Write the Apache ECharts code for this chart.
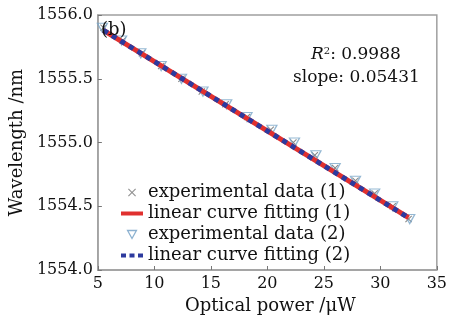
<!DOCTYPE html>
<html><head><meta charset="utf-8">
<script src="https://cdn.jsdelivr.net/npm/echarts@6/dist/echarts.min.js"></script>
<style>html,body{margin:0;padding:0;background:#fff}#c{width:450px;height:322px}</style>
</head><body><div id="c"></div>
<script>
// Data
const power1 = [5.5, 7.2, 8.9, 10.6, 12.4, 14.2, 16.3, 18.2, 20.3, 22.3, 24.2, 26.0, 27.8, 29.5, 31.1, 32.5];
const wave1  = [1555.9, 1555.8, 1555.7, 1555.6, 1555.5, 1555.4, 1555.3, 1555.2, 1555.1, 1555.0, 1554.9, 1554.8, 1554.7, 1554.6, 1554.5, 1554.4];
const power2 = [5.4, 7.1, 8.8, 10.6, 12.4, 14.3, 16.4, 18.2, 20.4, 22.4, 24.3, 26.0, 27.8, 29.5, 31.1, 32.6];
const wave2  = [1555.9, 1555.8, 1555.7, 1555.6, 1555.5, 1555.4, 1555.3, 1555.2, 1555.1, 1555.0, 1554.9, 1554.8, 1554.7, 1554.6, 1554.5, 1554.4];
const fitX = [5.5, 32.5];
const fit1 = [1555.88, 1554.41];
const fit2 = [1555.88, 1554.41];
const xTicks = [5, 10, 15, 20, 25, 30, 35];
const yTicks = [1554.0, 1554.5, 1555.0, 1555.5, 1556.0];
const seriesNames = ['experimental data (1)', 'linear curve fitting (1)', 'experimental data (2)', 'linear curve fitting (2)'];
const r2Text = '0.9988';
const slopeText = '0.05431';
const panelLabel = '(b)';

const FONT = 'DejaVu Serif';
const crossPath = 'path://M0,1 L1,0 L5,4 L9,0 L10,1 L6,5 L10,9 L9,10 L5,6 L1,10 L0,9 L4,5 Z';
const triPath = 'path://M0,0 L10,0 L5,9 Z';
const barPath = 'path://M0,0 L22,0 L22,4 L0,4 Z';
const dotLinePath = 'path://M0,0 L5,0 L5,4 L0,4 Z M8.5,0 L13.5,0 L13.5,4 L8.5,4 Z M17,0 L22,0 L22,4 L17,4 Z';

const chart = echarts.init(document.getElementById('c'));
chart.setOption({
  animation: false,
  backgroundColor: '#fff',
  grid: { left: 97, right: 9, top: 15, bottom: 52, show: true, borderColor: '#a0a0a0', borderWidth: 1.5 },
  xAxis: {
    type: 'value', min: 5, max: 35, interval: 5,
    name: 'Optical power /\u03bcW', nameLocation: 'middle', nameGap: 27,
    nameTextStyle: { fontFamily: FONT, fontSize: 18, color: '#111', padding: [0, 0, 0, 6] },
    axisLine: { lineStyle: { color: '#a0a0a0', width: 1.5 } },
    axisTick: { inside: true, length: 4, lineStyle: { color: '#777' } },
    axisLabel: { fontFamily: FONT, fontSize: 16, color: '#111', margin: 6 },
    splitLine: { show: false }
  },
  yAxis: {
    type: 'value', min: 1554, max: 1556, interval: 0.5,
    name: 'Wavelength /nm', nameLocation: 'middle', nameGap: 70,
    nameTextStyle: { fontFamily: FONT, fontSize: 18, color: '#111' },
    axisLine: { show: true, lineStyle: { color: '#a0a0a0', width: 1.5 } },
    axisTick: { show: true, inside: true, length: 4, lineStyle: { color: '#777' } },
    axisLabel: { fontFamily: FONT, fontSize: 16, color: '#111', margin: 5, formatter: v => v.toFixed(1) },
    splitLine: { show: false }
  },
  legend: {
    orient: 'vertical', left: 116, top: 177, itemGap: 0, itemWidth: 22, itemHeight: 8,
    textStyle: { fontFamily: FONT, fontSize: 18, color: '#111', padding: [0, 0, 0, 0], lineHeight: 21 },
    data: [
      { name: seriesNames[0], icon: crossPath, itemStyle: { color: '#777' } },
      { name: seriesNames[1], icon: barPath, itemStyle: { color: '#e0302f' } },
      { name: seriesNames[2], icon: triPath, itemStyle: { color: 'rgba(0,0,0,0)', borderColor: '#6f9ec4', borderWidth: 1.3 } },
      { name: seriesNames[3], icon: dotLinePath, itemStyle: { color: '#2d3a9e' } }
    ]
  },
  series: [
    { name: seriesNames[0], type: 'scatter', symbol: crossPath, symbolSize: 7, itemStyle: { color: '#666' },
      data: power1.map((x, i) => [x, wave1[i]]), z: 3 },
    { name: seriesNames[2], type: 'scatter', symbol: triPath, symbolSize: [10, 9],
      itemStyle: { color: 'rgba(255,255,255,0)', borderColor: '#7aa6c8', borderWidth: 1.3 },
      data: power2.map((x, i) => [x, wave2[i]]), z: 3 },
    { name: seriesNames[1], type: 'line', symbol: 'none', lineStyle: { color: '#e0302f', width: 5 },
      data: fitX.map((x, i) => [x, fit1[i]]), z: 4 },
    { name: seriesNames[3], type: 'line', symbol: 'none', lineStyle: { color: '#2d3a9e', width: 5, type: [5, 5] },
      data: fitX.map((x, i) => [x, fit2[i]]), z: 5 }
  ],
  graphic: [
    { type: 'text', left: 101, top: 21, z: 10,
      style: { text: panelLabel, fontFamily: FONT, fontSize: 18, fill: '#111' } },
    { type: 'text', left: 311, top: 46, z: 10,
      style: { rich: { i: { fontFamily: FONT, fontStyle: 'italic', fontSize: 17, fill: '#111' },
                       s: { fontFamily: FONT, fontSize: 10, fill: '#111', verticalAlign: 'top', padding: [0, 0, 8, 0] },
                       n: { fontFamily: FONT, fontSize: 17, fill: '#111' } },
               text: '{i|R}{s|2}{n|: ' + r2Text + '}' } },
    { type: 'text', left: 293, top: 69, z: 10,
      style: { text: 'slope: ' + slopeText, fontFamily: FONT, fontSize: 17, fill: '#111' } }
  ]
});
</script></body></html>
